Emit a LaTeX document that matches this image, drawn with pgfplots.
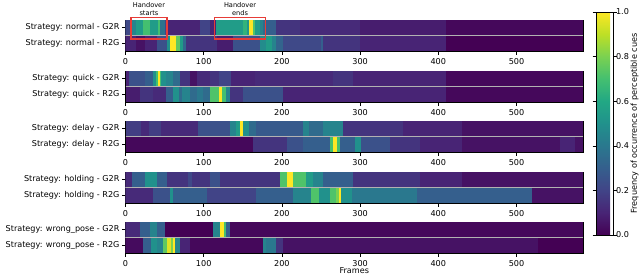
\documentclass[border=0pt]{standalone}
\usepackage{pgfplots}
\pgfplotsset{compat=1.18}
\usepackage{fontspec}
\setmainfont{DejaVu Sans}
\definecolor{boxred}{RGB}{230,60,55}
\pgfplotsset{
  colormap={vir}{rgb255=(68,1,84) rgb255=(72,36,117) rgb255=(65,68,135) rgb255=(53,95,141) rgb255=(42,120,142) rgb255=(33,145,140) rgb255=(34,168,132) rgb255=(68,191,112) rgb255=(122,209,81) rgb255=(189,223,38) rgb255=(253,231,37)},
  panel/.style={scale only axis, width=457.5pt, height=31pt,
    xmin=0, xmax=585, ymin=0, ymax=2, ytick={0.5,1.5},
    xtick={0,100,...,500}, tick align=outside, tick pos=left,
    major tick length=3.5pt, every tick/.style={black, line width=0.6pt},
    axis line style={line width=0.7pt},
    point meta min=0, point meta max=1, colormap name=vir,
    clip mode=individual,
    tick label style={font=\fontsize{8.1}{9.5}\selectfont},
    yticklabel style={xshift=1pt},
    /pgf/number format/assume math mode=true,
    anchor=north west},
  strip/.style={mesh, shader=flat corner, line width=15.6pt, point meta=explicit, forget plot},
  divider/.style={color=black!30, line width=0.8pt, forget plot}
}
\begin{document}
\begin{tikzpicture}
\useasboundingbox (0,0) rectangle (640pt,-276pt);
% ---------------- normal
\begin{axis}[panel, at={(125.5pt,-20pt)}, yticklabels={Strategy: normal - R2G, Strategy: normal - G2R}]
\addplot[strip] table[x=x, y expr=1.5, meta=c] {
x c
0 0.22
8 0.45
14 0.55
23 0.70
31 0.55
42 0.70
44 0.38
50 0.20
53 0.10
95 0.20
108 0.10
116 0.55
150 0.65
156 0.52
158.5 1.00
163 0.72
166 0.55
172 0.45
176 0.35
180 0.30
193 0.15
223 0.12
300 0.08
410 0.02
585 0.02
};
\addplot[strip] table[x=x, y expr=0.5, meta=c] {
x c
0 0.10
13 0.05
25 0.10
40 0.25
53 0.50
57 1.00
65 0.75
70 0.55
73 0.35
78 0.15
117 0.08
138 0.25
172 0.48
180 0.55
187 0.45
193 0.32
201 0.22
250 0.30
253 0.15
300 0.10
410 0.00
585 0.00
};
\addplot[divider] coordinates {(0,1) (585,1)};
\draw[boxred, line width=1.5pt] (axis cs:7,0.76) rectangle (axis cs:53,2.15);
\draw[boxred, line width=1.5pt] (axis cs:114,0.76) rectangle (axis cs:179,2.15);
\node[align=center, font=\fontsize{6.6}{8.3}\selectfont, anchor=south, inner sep=1pt] at (axis cs:30,2.2) {Handover\\starts};
\node[align=center, font=\fontsize{6.6}{8.3}\selectfont, anchor=south, inner sep=1pt] at (axis cs:146.5,2.2) {Handover\\ends};
\end{axis}
% ---------------- quick
\begin{axis}[panel, at={(125.5pt,-71pt)}, yticklabels={Strategy: quick - R2G, Strategy: quick - G2R}]
\addplot[strip] table[x=x, y expr=1.5, meta=c] {
x c
0 0.10
5 0.25
25 0.30
35 0.50
39 0.70
41 1.00
44 0.70
46 0.50
52 0.45
61 0.35
70 0.15
82 0.05
91 0.12
108 0.15
120 0.20
135 0.10
165 0.12
265 0.15
291 0.10
410 0.02
585 0.00
};
\addplot[strip] table[x=x, y expr=0.5, meta=c] {
x c
0 0.08
18 0.15
35 0.12
52 0.30
61 0.50
68 0.35
72 0.45
82 0.35
91 0.40
99 0.35
108 0.72
119 1.00
123 0.70
128 0.45
133 0.15
150 0.25
201 0.10
410 0.02
585 0.00
};
\addplot[divider] coordinates {(0,1) (585,1)};
\end{axis}
% ---------------- delay
\begin{axis}[panel, at={(125.5pt,-121pt)}, yticklabels={Strategy: delay - R2G, Strategy: delay - G2R}]
\addplot[strip] table[x=x, y expr=1.5, meta=c] {
x c
0 0.18
20 0.12
30 0.18
46 0.12
93 0.25
133 0.45
141 0.55
147 1.00
150 0.50
158 0.35
167 0.28
227 0.45
235 0.35
252 0.45
278 0.15
355 0.10
430 0.05
585 0.00
};
\addplot[strip] table[x=x, y expr=0.5, meta=c] {
x c
0 0.02
163 0.15
206 0.25
227 0.30
261 0.70
265 1.00
270 0.70
274 0.30
293 0.50
301 0.25
338 0.15
376 0.10
430 0.05
555 0.10
575 0.05
585 0.00
};
\addplot[divider] coordinates {(0,1) (585,1)};
\end{axis}
% ---------------- holding
\begin{axis}[panel, at={(125.5pt,-172pt)}, yticklabels={Strategy: holding - R2G, Strategy: holding - G2R}]
\addplot[strip] table[x=x, y expr=1.5, meta=c] {
x c
0 0.12
8 0.30
25 0.50
40 0.30
53 0.15
80 0.22
85 0.15
108 0.25
121 0.15
197 0.72
206 1.00
214 0.72
231 0.55
240 0.45
252 0.30
291 0.15
376 0.10
430 0.05
585 0.00
};
\addplot[strip] table[x=x, y expr=0.5, meta=c] {
x c
0 0.12
35 0.25
57 0.50
61 0.30
104 0.20
167 0.30
214 0.45
237 0.72
248 0.50
261 0.72
269 0.80
273 1.00
275 0.50
290 0.40
373 0.30
520 0.05
585 0.00
};
\addplot[divider] coordinates {(0,1) (585,1)};
\end{axis}
% ---------------- wrong_pose
\begin{axis}[panel, at={(125.5pt,-222pt)}, yticklabels={Strategy: wrong\_pose - R2G, Strategy: wrong\_pose - G2R},
  xlabel={Frames}, xlabel style={font=\fontsize{8.1}{9.5}\selectfont, yshift=5pt}]
\addplot[strip] table[x=x, y expr=1.5, meta=c] {
x c
0 0.12
18 0.30
31 0.45
40 0.30
50 0.00
112 0.45
121 1.00
126 0.70
129 0.30
134 0.02
585 0.02
};
\addplot[strip] table[x=x, y expr=0.5, meta=c] {
x c
0 0.03
23 0.30
33 0.50
40 0.45
48 0.75
53 0.95
58 0.80
61 1.00
63 0.45
70 0.10
82 0.02
176 0.45
180 0.40
193 0.15
202 0.05
527 0.00
585 0.00
};
\addplot[divider] coordinates {(0,1) (585,1)};
\end{axis}
% ---------------- colorbar
\begin{axis}[hide axis, scale only axis, width=17pt, height=223pt, at={(596pt,-12pt)}, anchor=north west,
  xmin=0, xmax=1, ymin=0, ymax=1, point meta min=0, point meta max=1, colormap name=vir,
  colorbar, colorbar shift/.style={xshift=0pt},
  colorbar style={at={(parent axis.north west)}, anchor=north west, xshift=0pt,
    scale only axis, width=17pt, height=223pt,
    ytick={0,0.2,0.4,0.6,0.8,1}, tick align=outside, major tick length=3.5pt,
    every tick/.style={black, line width=0.6pt}, axis line style={line width=0.7pt},
    yticklabel style={font=\fontsize{8.1}{9.5}\selectfont, xshift=-4pt, /pgf/number format/.cd, fixed, fixed zerofill, precision=1, assume math mode=true},
    ylabel={Frequency of occurrence of perceptible cues},
    ylabel style={font=\fontsize{8.1}{9.5}\selectfont, yshift=5pt}}]
\addplot[draw=none] coordinates {(0,0)};
\end{axis}
\end{tikzpicture}
\end{document}
